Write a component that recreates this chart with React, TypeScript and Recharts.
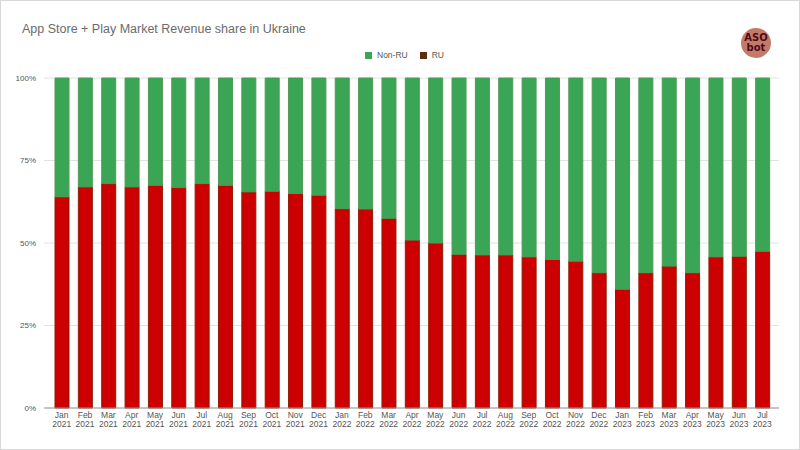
import React from "react";
import { BarChart, Bar, XAxis, YAxis, CartesianGrid } from "recharts";

const months = [
  "Jan 2021", "Feb 2021", "Mar 2021", "Apr 2021", "May 2021", "Jun 2021", "Jul 2021", "Aug 2021",
  "Sep 2021", "Oct 2021", "Nov 2021", "Dec 2021", "Jan 2022", "Feb 2022", "Mar 2022", "Apr 2022",
  "May 2022", "Jun 2022", "Jul 2022", "Aug 2022", "Sep 2022", "Oct 2022", "Nov 2022", "Dec 2022",
  "Jan 2023", "Feb 2023", "Mar 2023", "Apr 2023", "May 2023", "Jun 2023", "Jul 2023",
];

const ruShare = [
  64, 67, 68, 67, 67.5, 66.8, 68, 67.5,
  65.5, 65.7, 65, 64.5, 60.4, 60.3, 57.5, 50.9,
  50, 46.6, 46.4, 46.4, 45.8, 45, 44.5, 41,
  36, 41, 43, 41, 45.8, 46, 47.5,
];

const nonRuShare = [
  36, 33, 32, 33, 32.5, 33.2, 32, 32.5,
  34.5, 34.3, 35, 35.5, 39.6, 39.7, 42.5, 49.1,
  50, 53.4, 53.6, 53.6, 54.2, 55, 55.5, 59,
  64, 59, 57, 59, 54.2, 54, 52.5,
];

const yTicks = [0, 25, 50, 75, 100];

const data = months.map((m, i) => ({ month: m, ru: ruShare[i], nonRu: nonRuShare[i] }));

const MonthTick = (props: any) => {
  const { x, payload } = props;
  const [mon, yr] = String(payload.value).split(" ");
  return (
    <text textAnchor="middle" fill="#555" fontSize={8.5} fontFamily="Liberation Sans, Arial, sans-serif">
      <tspan x={x} y={417}>{mon}</tspan>
      <tspan x={x} y={425.5}>{yr}</tspan>
    </text>
  );
};

export default function App() {
  return (
    <div style={{ position: "fixed", left: 0, top: 0, width: 800, height: 450, background: "#fff", fontFamily: "Liberation Sans, Arial, sans-serif", boxSizing: "border-box", border: "1px solid #d8d8d8" }}>
      <div style={{ position: "absolute", left: 21, top: 21, fontSize: 12.5, color: "#6b6b6b" }}>
        App Store + Play Market Revenue share in Ukraine
      </div>
      <div style={{ position: "absolute", left: 364, top: 49, display: "flex", alignItems: "center", fontSize: 8.5, color: "#555" }}>
        <span style={{ width: 7, height: 7, background: "#3aa655", display: "inline-block", marginRight: 5 }} />
        <span>Non-RU</span>
        <span style={{ width: 7, height: 7, background: "#5c2e0e", display: "inline-block", marginRight: 5, marginLeft: 12 }} />
        <span>RU</span>
      </div>
      <div style={{ position: "absolute", left: 740, top: 27, width: 30, height: 30, borderRadius: "50%", background: "#c27b68", display: "flex", flexDirection: "column", alignItems: "center", justifyContent: "center", color: "#4d0a1a", fontWeight: "bold", fontSize: 10, lineHeight: "10px", fontFamily: "DejaVu Sans, sans-serif" }}>
        <span>ASO</span>
        <span>bot</span>
      </div>
      <div style={{ position: "absolute", left: 0, top: 0 }}>
        <BarChart width={800} height={450} data={data} margin={{ top: 77, right: 22, bottom: 0, left: 0 }} barSize={14}>
          <CartesianGrid vertical={false} stroke="#e2e2e2" />
          <XAxis dataKey="month" interval={0} tick={<MonthTick />} tickLine={false} axisLine={{ stroke: "#999" }} height={43} padding={{ left: 6, right: 5 }} />
          <YAxis domain={[0, 100]} ticks={yTicks} tickFormatter={(v: number) => `${v}%`} width={43} tickLine={false} axisLine={false} tickMargin={2} tick={{ fontSize: 8, fill: "#555" }} />
          <Bar dataKey="ru" stackId="a" fill="#cc0000" stroke="#8f1c05" strokeWidth={1} isAnimationActive={false} />
          <Bar dataKey="nonRu" stackId="a" fill="#3aa655" stroke="#4f9a55" strokeWidth={1} isAnimationActive={false} />
        </BarChart>
      </div>
    </div>
  );
}
